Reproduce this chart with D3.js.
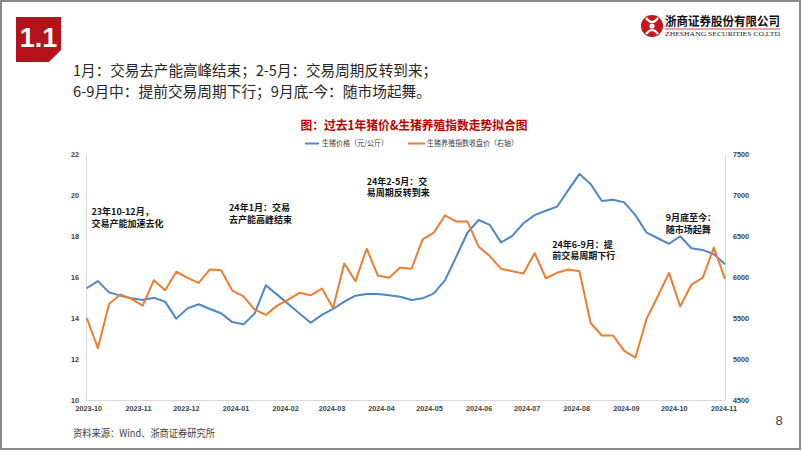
<!DOCTYPE html>
<html><head><meta charset="utf-8">
<script src="https://cdn.jsdelivr.net/npm/d3@7"></script>
<style>
html,body{margin:0;padding:0;background:#fff;}
svg{display:block;}
</style></head>
<body>
<svg id="c" width="802" height="451"></svg>
<script>
// ---------- data ----------
const dates = ["2023-09-30","2023-10-07","2023-10-14","2023-10-21","2023-10-28","2023-11-04","2023-11-11","2023-11-18","2023-11-25","2023-12-02","2023-12-09","2023-12-16","2023-12-23","2023-12-30","2024-01-06","2024-01-13","2024-01-20","2024-01-27","2024-02-03","2024-02-10","2024-02-17","2024-02-24","2024-03-02","2024-03-09","2024-03-16","2024-03-23","2024-03-30","2024-04-06","2024-04-13","2024-04-20","2024-04-27","2024-05-04","2024-05-11","2024-05-18","2024-05-25","2024-06-01","2024-06-08","2024-06-15","2024-06-22","2024-06-29","2024-07-06","2024-07-13","2024-07-20","2024-07-27","2024-08-03","2024-08-10","2024-08-17","2024-08-24","2024-08-31","2024-09-07","2024-09-14","2024-09-21","2024-09-28","2024-10-05","2024-10-12","2024-10-19","2024-10-26","2024-11-02"];
const hogPrice = [15.45,15.80,15.25,15.09,14.96,14.88,14.99,14.80,13.97,14.47,14.67,14.44,14.23,13.80,13.69,14.22,15.60,15.14,14.68,14.22,13.77,14.15,14.44,14.80,15.09,15.17,15.17,15.11,15.04,14.88,14.96,15.20,15.85,16.99,18.16,18.78,18.54,17.69,18.01,18.62,19.02,19.23,19.43,20.24,21.02,20.54,19.71,19.77,19.64,19.02,18.16,17.89,17.62,17.99,17.40,17.32,17.11,16.62];
const hogIndex = [5500,5133,5672,5786,5733,5651,5961,5838,6064,5990,5929,6092,6083,5835,5765,5602,5537,5651,5725,5807,5777,5859,5623,6165,5949,6345,6018,5990,6116,6100,6459,6541,6753,6676,6676,6370,6255,6100,6071,6043,6292,5985,6051,6092,6071,5439,5287,5287,5100,5018,5492,5765,6051,5642,5908,5990,6358,5978];
const monthTicks = ["2023-10","2023-11","2023-12","2024-01","2024-02","2024-03","2024-04","2024-05","2024-06","2024-07","2024-08","2024-09","2024-10","2024-11"];
const leftTicks = [10,12,14,16,18,20,22];
const rightTicks = [4500,5000,5500,6000,6500,7000,7500];
const seriesNames = ["生猪价格（元/公斤）","生猪养殖指数收盘价（右轴）"];
const chartTitle = "图：过去1年猪价&生猪养殖指数走势拟合图";
const headerLines = ["1月：交易去产能高峰结束；2-5月：交易周期反转到来；","6-9月中：提前交易周期下行；9月底-今：随市场起舞。"];
const annotations = [
  {d:"2023-10-03", v:19.02, lines:["23年10-12月，","交易产能加速去化"]},
  {d:"2023-12-28", v:19.2, lines:["24年1月：交易","去产能高峰结束"]},
  {d:"2024-03-23", v:20.49, lines:["24年2-5月：交","易周期反转到来"]},
  {d:"2024-07-17", v:17.43, lines:["24年6-9月：提","前交易周期下行"]},
  {d:"2024-09-26", v:18.73, lines:["9月底至今：","随市场起舞"]}
];
const sourceText = "资料来源：Wind、浙商证券研究所";

// ---------- setup ----------
const parse = d3.timeParse("%Y-%m-%d");
const parseM = d3.timeParse("%Y-%m");
const svg = d3.select("#c");
const BLUE = "#4f86c6", ORANGE = "#ed7d31";
const CJK = "'Noto Sans CJK SC','Noto Sans',sans-serif";
const LAT = "'Liberation Sans',Arial,sans-serif";

// page frame
svg.append("rect").attr("x",1).attr("y",1).attr("width",799).attr("height",448)
  .attr("fill","#fff").attr("stroke","#8a8a8a").attr("stroke-width",2);

// badge
svg.append("path").attr("d","M16,17 L61,17 L61,50 L49,62 L16,62 Z").attr("fill","#b5121b");
svg.append("text").attr("x",38.5).attr("y",47).attr("text-anchor","middle")
  .attr("font-family",LAT).attr("font-weight","bold").attr("font-size",27).attr("fill","#fff").text("1.1");

// logo
const lg = svg.append("g");
lg.append("circle").attr("cx",652).attr("cy",26).attr("r",11).attr("fill","#c8161d");
lg.append("path").attr("d","M646,18 Q652,26 658,18 M646,34 Q652,26 658,34").attr("fill","none").attr("stroke","#fff").attr("stroke-width",2.2);
lg.append("circle").attr("cx",652).attr("cy",26).attr("r",2.6).attr("fill","#fff");
lg.append("text").attr("x",665).attr("y",26).attr("font-family",CJK).attr("font-weight","bold")
  .attr("font-size",12.5).attr("fill","#111").attr("textLength",115).attr("lengthAdjust","spacingAndGlyphs").text("浙商证券股份有限公司");
lg.append("line").attr("x1",665).attr("x2",780).attr("y1",29).attr("y2",29).attr("stroke","#c8161d").attr("stroke-width",0.8);
lg.append("text").attr("x",665).attr("y",36).attr("font-family","'Liberation Serif',serif")
  .attr("font-size",6.5).attr("fill","#222").attr("textLength",115).attr("lengthAdjust","spacingAndGlyphs").text("ZHESHANG SECURITIES CO.LTD");

// header text
svg.append("text").attr("x",73).attr("y",75.5).attr("font-family",CJK).attr("font-size",15).attr("fill","#262626")
  .attr("textLength",364).attr("lengthAdjust","spacingAndGlyphs").text(headerLines[0]);
svg.append("text").attr("x",73).attr("y",96.5).attr("font-family",CJK).attr("font-size",15).attr("fill","#262626")
  .attr("textLength",358).attr("lengthAdjust","spacingAndGlyphs").text(headerLines[1]);

// chart title
svg.append("text").attr("x",300.5).attr("y",130).attr("font-family",CJK).attr("font-weight","bold")
  .attr("font-size",12.5).attr("fill","#c00000").attr("textLength",227).attr("lengthAdjust","spacingAndGlyphs").text(chartTitle);

// legend
const leg = svg.append("g").attr("font-family",CJK).attr("font-size",7.5).attr("fill","#404040");
leg.append("line").attr("x1",305).attr("x2",319).attr("y1",143.5).attr("y2",143.5).attr("stroke",BLUE).attr("stroke-width",2);
leg.append("text").attr("x",322).attr("y",146.3).attr("textLength",66).attr("lengthAdjust","spacingAndGlyphs").text(seriesNames[0]);
leg.append("line").attr("x1",408).attr("x2",425).attr("y1",143.5).attr("y2",143.5).attr("stroke",ORANGE).attr("stroke-width",2);
leg.append("text").attr("x",427).attr("y",146.3).attr("textLength",91).attr("lengthAdjust","spacingAndGlyphs").text(seriesNames[1]);

// scales
const x = d3.scaleTime().domain([parse(dates[0]), parse(dates[dates.length-1])]).range([86.7,725]);
const yL = d3.scaleLinear().domain([10,22]).range([400,154]);
const yR = d3.scaleLinear().domain([4500,7500]).range([400,154]);

// axes
const axFont = (g)=>{ g.selectAll("text").attr("font-family",LAT).attr("font-weight","bold").attr("font-size",7.2).attr("fill","#404040");
  g.select(".domain").attr("stroke","#d9d9d9").attr("stroke-width",1); g.selectAll(".tick line").remove(); };
svg.append("g").attr("transform","translate(0,400)")
  .call(d3.axisBottom(x).tickValues(monthTicks.map(parseM)).tickFormat(d3.timeFormat("%Y-%m")).tickSize(0).tickPadding(6).tickSizeOuter(0))
  .call(axFont);
svg.append("g").attr("transform","translate(86,0)")
  .call(d3.axisLeft(yL).tickValues(leftTicks).tickFormat(d3.format("d")).tickSize(0).tickPadding(7).tickSizeOuter(0))
  .call(axFont);
svg.append("g").attr("transform","translate(725,0)")
  .call(d3.axisRight(yR).tickValues(rightTicks).tickFormat(d3.format("d")).tickSize(0).tickPadding(8).tickSizeOuter(0))
  .call(axFont);

// lines
const pts = dates.map((d,i)=>({d:parse(d), p:hogPrice[i], ix:hogIndex[i]}));
svg.append("path").datum(pts).attr("fill","none").attr("stroke",BLUE).attr("stroke-width",2).attr("stroke-linejoin","round")
  .attr("d", d3.line().x(d=>x(d.d)).y(d=>yL(d.p)));
svg.append("path").datum(pts).attr("fill","none").attr("stroke",ORANGE).attr("stroke-width",2).attr("stroke-linejoin","round")
  .attr("d", d3.line().x(d=>x(d.d)).y(d=>yR(d.ix)));

// annotations
const ag = svg.append("g").attr("font-family",CJK).attr("font-weight","bold").attr("font-size",9).attr("fill","#111");
annotations.forEach(a=>{
  const t = ag.append("text").attr("x",x(parse(a.d))).attr("y",yL(a.v));
  a.lines.forEach((l,i)=>t.append("tspan").attr("x",x(parse(a.d))).attr("dy",i?11.5:0).text(l));
});

// footer
svg.append("text").attr("x",73).attr("y",437).attr("font-family",CJK).attr("font-size",10.5).attr("fill","#404040")
  .attr("textLength",142).attr("lengthAdjust","spacingAndGlyphs").text(sourceText);
svg.append("text").attr("x",779).attr("y",425).attr("text-anchor","middle").attr("font-family",LAT).attr("font-size",13).attr("fill","#404040").text("8");
</script>
</body></html>
